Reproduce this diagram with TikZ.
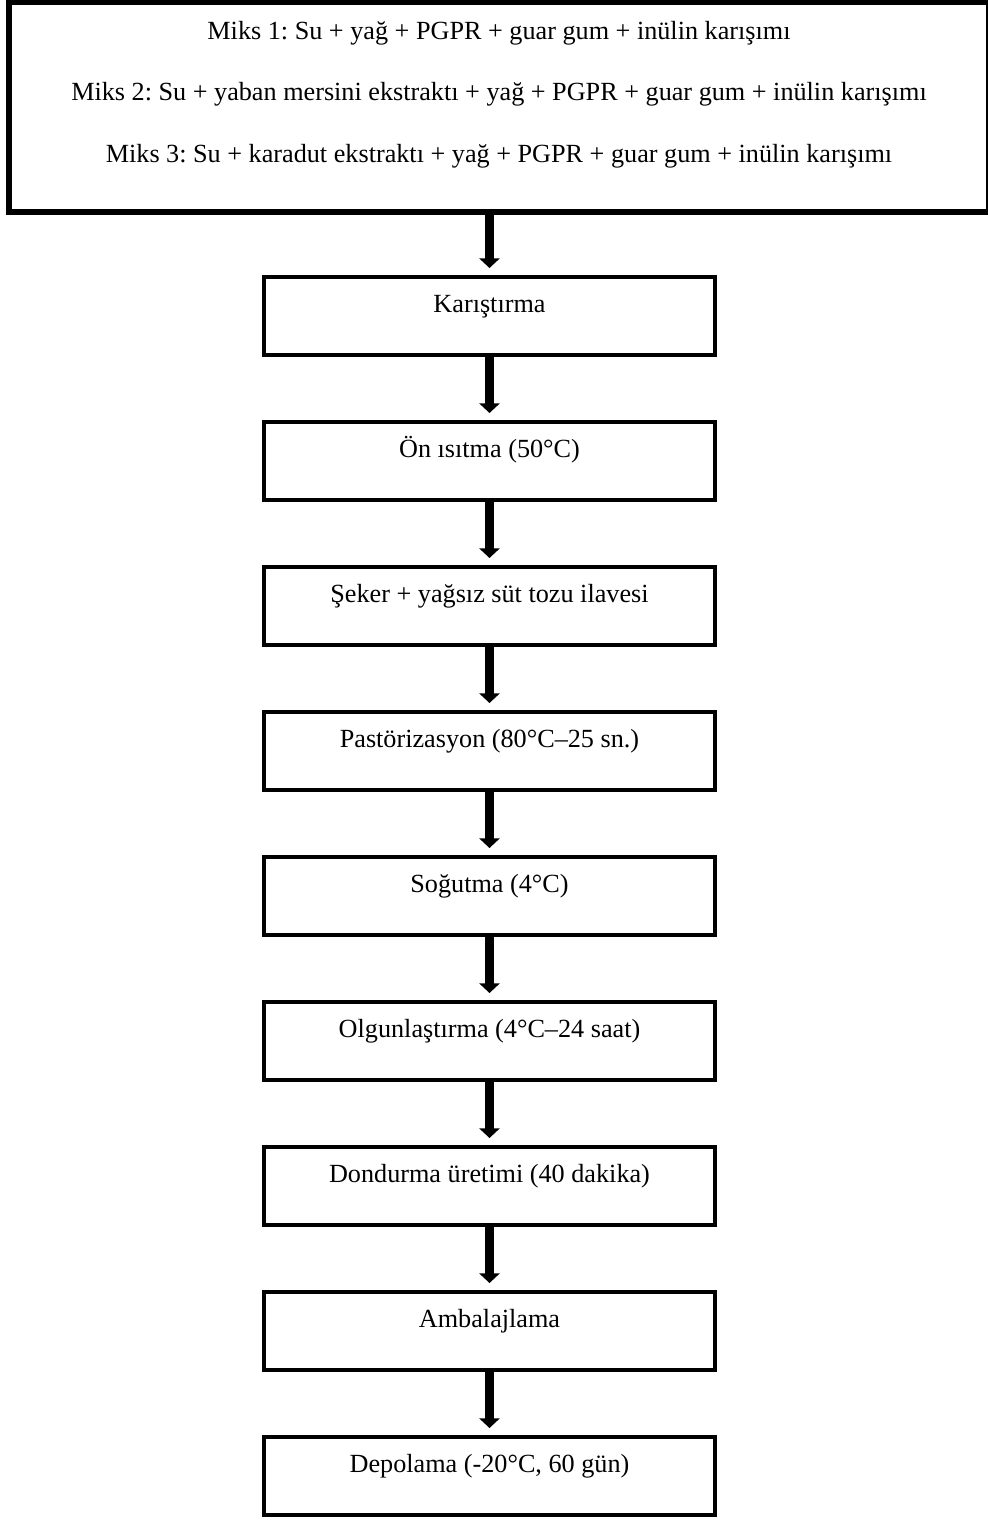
\documentclass[tikz,border=0pt]{standalone}
\usepackage{fontspec}
\setmainfont{Liberation Serif}
\usetikzlibrary{arrows.meta}
\frenchspacing

\begin{document}
\begin{tikzpicture}[
    x=0.5pt,y=0.5pt,
    every node/.style={font=\fontsize{13.1pt}{30.75pt}\selectfont},
    mixframe/.style={draw=black, line width=2.75pt, fill=white, inner sep=0pt, align=center,
        minimum width=490pt, text height=79.75pt, text depth=25pt},
    stage/.style={draw=black, line width=2pt, fill=white, inner sep=0pt,
        minimum width=225.5pt, text height=17.5pt, text depth=21.5pt},
    flow/.style={line width=4.25pt, -{Triangle[width=10pt,length=4.8pt]}, shorten >=3.5pt}
]
    \useasboundingbox (0,0) rectangle (988,-1521);

    % mixtures
    \node[mixframe] (mix) at (499,-107.25) {%
        Miks 1: Su + yağ + PGPR + guar gum + inülin karışımı\\
        Miks 2: Su + yaban mersini ekstraktı + yağ + PGPR + guar gum + inülin karışımı\\
        Miks 3: Su + karadut ekstraktı + yağ + PGPR + guar gum + inülin karışımı};

    % process steps
    \foreach \i/\lab in {1/Karıştırma, 2/Ön ısıtma (50°C), 3/Şeker + yağsız süt tozu ilavesi,
        4/Pastörizasyon (80°C–25 sn.), 5/Soğutma (4°C), 6/Olgunlaştırma (4°C–24 saat),
        7/Dondurma üretimi (40 dakika), 8/Ambalajlama, 9/{Depolama (-20°C, 60 gün)}} {
        \node[stage] (s\i) at (489.5,{-316-145*(\i-1)}) {\lab};
    }

    \draw[flow] (mix.south -| s1.north) -- (s1.north);
    \foreach \i [evaluate=\i as \j using int(\i+1)] in {1,...,8} {
        \draw[flow] (s\i.south) -- (s\j.north);
    }
\end{tikzpicture}
\end{document}
